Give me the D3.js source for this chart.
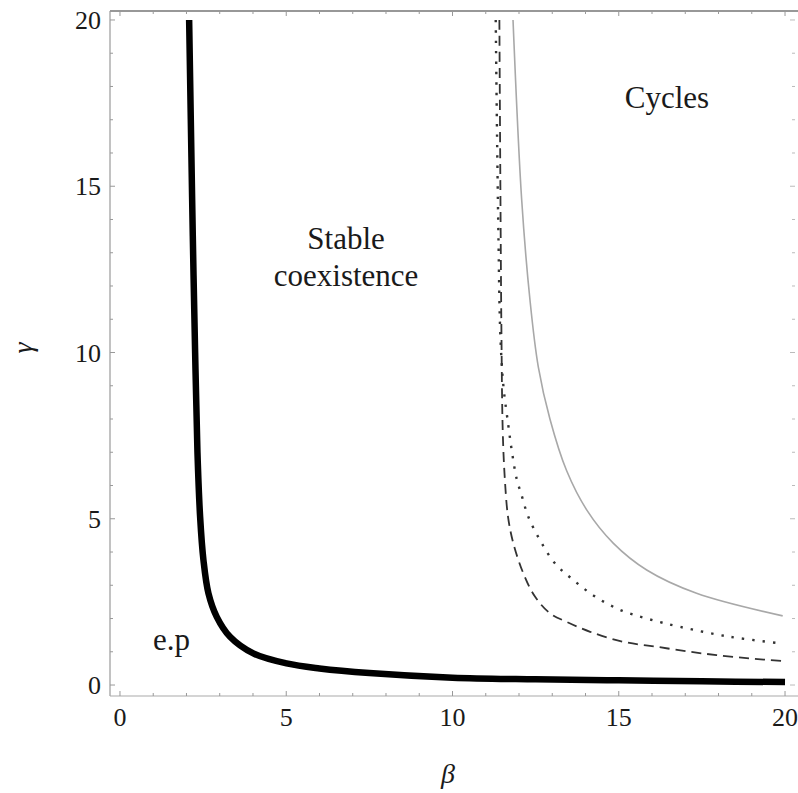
<!DOCTYPE html>
<html>
<head>
<meta charset="utf-8">
<script src="https://cdn.jsdelivr.net/npm/d3@7"></script>
<style>
  html, body { margin: 0; padding: 0; background: #fff; }
  svg { display: block; }
</style>
</head>
<body>
<svg id="chart" width="798" height="793"></svg>
<script>
// Boundary between extinction and coexistence (thick black)
const extinctionBeta  = [2.08, 2.13, 2.19, 2.26, 2.33, 2.41, 2.51, 2.66, 2.91, 3.31, 4.01, 5.01, 6.00, 7.50, 10.0, 12.5, 15.0, 17.5, 20.0];
const extinctionGamma = [20.0, 17.0, 13.5, 10.0, 7.00, 5.06, 3.76, 2.76, 2.05, 1.45, 0.95, 0.65, 0.50, 0.36, 0.22, 0.17, 0.14, 0.11, 0.09];

// Hopf boundaries (three parameter sets)
const hopfSolidBeta   = [11.82, 12.08, 12.33, 12.58, 12.93, 13.43, 14.04, 14.84, 15.84, 17.34, 19.93];
const hopfSolidGamma  = [20.0, 14.6, 11.58, 9.57, 8.00, 6.45, 5.26, 4.26, 3.46, 2.76, 2.08];

const hopfDottedBeta  = [11.30, 11.34, 11.38, 11.44, 11.53, 11.68, 11.79, 11.93, 12.08, 12.28, 12.63, 13.08, 13.63, 14.29, 15.04, 15.84, 16.84, 18.35, 19.73];
const hopfDottedGamma = [20.0, 16.5, 13.6, 10.5, 9.0, 7.8, 7.0, 6.2, 5.7, 5.06, 4.36, 3.66, 3.16, 2.66, 2.26, 2.0, 1.75, 1.45, 1.27];

const hopfDashedBeta  = [11.41, 11.44, 11.47, 11.51, 11.57, 11.67, 11.83, 12.13, 12.48, 12.93, 13.43, 14.14, 15.14, 16.14, 17.14, 17.94, 18.95, 19.95];
const hopfDashedGamma = [20.0, 15.0, 10.8, 7.67, 6.26, 5.06, 4.26, 3.36, 2.66, 2.16, 1.90, 1.60, 1.30, 1.15, 1.00, 0.90, 0.80, 0.72];

const majorTicks = [0, 5, 10, 15, 20];
const minorTicks = d3.range(0, 21, 1);

const regionLabels = [
  { lines: ["Stable", "coexistence"], beta: 6.8, gamma: 13.1 },
  { lines: ["Cycles"], beta: 16.45, gamma: 17.35 },
  { lines: ["e.p"], beta: 1.55, gamma: 1.05 }
];

const serif = "'Liberation Serif', 'Times New Roman', Times, serif";
const svg = d3.select("#chart");
const plotLeft = 110, plotRight = 795, plotTop = 11, plotBottom = 696;

const x = d3.scaleLinear().domain([-0.3, 20.3]).range([plotLeft, plotRight]);
const y = d3.scaleLinear().domain([-0.33, 20.27]).range([plotBottom, plotTop]);

const frame = svg.append("g");
// frame lines
frame.append("line").attr("x1", plotLeft).attr("x2", 798).attr("y1", plotTop).attr("y2", plotTop)
  .attr("stroke", "#333").attr("stroke-width", 1.2);
frame.append("line").attr("x1", plotLeft).attr("x2", plotLeft).attr("y1", plotTop).attr("y2", plotBottom)
  .attr("stroke", "#999").attr("stroke-width", 1.2);
frame.append("line").attr("x1", plotLeft).attr("x2", 798).attr("y1", plotBottom).attr("y2", plotBottom)
  .attr("stroke", "#aaa").attr("stroke-width", 1.2);

// inward ticks on all four sides
const tickLen = d => majorTicks.includes(d) ? 5 : 3;
frame.selectAll(".tb").data(minorTicks).join("line")
  .attr("x1", d => x(d)).attr("x2", d => x(d))
  .attr("y1", plotBottom).attr("y2", d => plotBottom - tickLen(d))
  .attr("stroke", "#999").attr("stroke-width", 1);
frame.selectAll(".tt").data(minorTicks).join("line")
  .attr("x1", d => x(d)).attr("x2", d => x(d))
  .attr("y1", plotTop).attr("y2", d => plotTop + tickLen(d))
  .attr("stroke", "#999").attr("stroke-width", 1);
frame.selectAll(".tl").data(minorTicks).join("line")
  .attr("y1", d => y(d)).attr("y2", d => y(d))
  .attr("x1", plotLeft).attr("x2", d => plotLeft + tickLen(d))
  .attr("stroke", "#999").attr("stroke-width", 1);
frame.selectAll(".tr").data(minorTicks).join("line")
  .attr("y1", d => y(d)).attr("y2", d => y(d))
  .attr("x1", plotRight).attr("x2", d => plotRight - tickLen(d))
  .attr("stroke", "#bbb").attr("stroke-width", 1);

// tick labels
frame.selectAll(".xl").data(majorTicks).join("text")
  .attr("x", d => x(d)).attr("y", 726)
  .attr("text-anchor", "middle").attr("font-size", 26).attr("font-family", serif).attr("fill", "#1a1a1a")
  .text(d => d);
frame.selectAll(".yl").data(majorTicks).join("text")
  .attr("x", 101).attr("y", d => y(d) + 9)
  .attr("text-anchor", "end").attr("font-size", 26).attr("font-family", serif).attr("fill", "#1a1a1a")
  .text(d => d);

// axis titles
svg.append("text").attr("x", 448).attr("y", 783)
  .attr("text-anchor", "middle").attr("font-size", 28).attr("font-style", "italic")
  .attr("font-family", serif).attr("fill", "#1a1a1a")
  .text("β");
svg.append("text").attr("transform", "translate(32,348) rotate(-90)")
  .attr("text-anchor", "middle").attr("font-size", 28).attr("font-style", "italic")
  .attr("font-family", serif).attr("fill", "#1a1a1a")
  .text("γ");

const line = d3.line().x(d => x(d[0])).y(d => y(d[1])).curve(d3.curveCatmullRom.alpha(0.5));
const zip = (a, b) => a.map((v, i) => [v, b[i]]);

const plot = svg.append("g");
plot.append("path").datum(zip(hopfSolidBeta, hopfSolidGamma))
  .attr("d", line).attr("fill", "none")
  .attr("stroke", "#a8a8a8").attr("stroke-width", 1.6);
plot.append("path").datum(zip(hopfDottedBeta, hopfDottedGamma))
  .attr("d", line).attr("fill", "none")
  .attr("stroke", "#333").attr("stroke-width", 2.4).attr("stroke-dasharray", "2.4,8");
plot.append("path").datum(zip(hopfDashedBeta, hopfDashedGamma))
  .attr("d", line).attr("fill", "none")
  .attr("stroke", "#333").attr("stroke-width", 1.8).attr("stroke-dasharray", "10,6");
plot.append("path").datum(zip(extinctionBeta, extinctionGamma))
  .attr("d", line).attr("fill", "none")
  .attr("stroke", "#000").attr("stroke-width", 6.5);

// region labels
regionLabels.forEach(lbl => {
  const t = svg.append("text").attr("text-anchor", "middle").attr("font-size", 31)
    .attr("font-family", serif).attr("fill", "#1a1a1a");
  lbl.lines.forEach((s, i) => {
    t.append("tspan").attr("x", x(lbl.beta)).attr("y", y(lbl.gamma) + i * 37).text(s);
  });
});
</script>
</body>
</html>
